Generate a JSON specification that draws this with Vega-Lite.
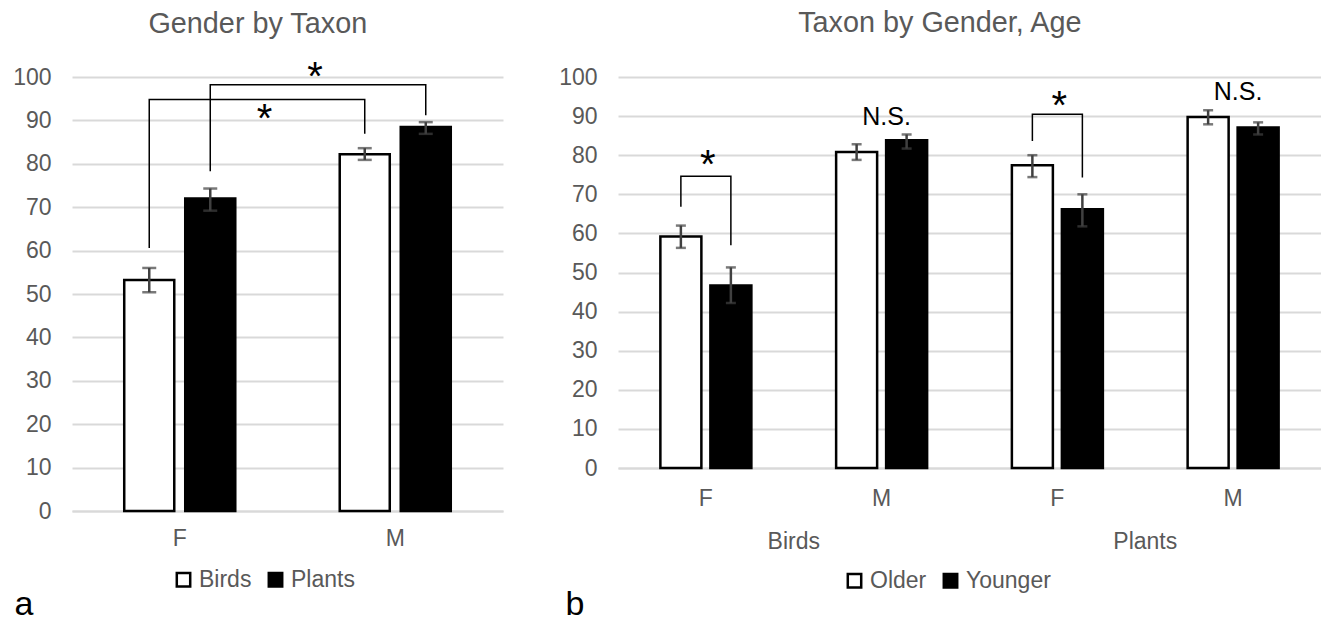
{
  "$schema": "https://vega.github.io/schema/vega-lite/v6.json",
  "padding": {"left": 12, "top": 8, "right": 0, "bottom": 0},
  "spacing": 55,
  "datasets": {
    "aBars": [
      {"gender": "F", "taxon": "Birds", "value": 53.2, "lo": 50.4, "hi": 56.0},
      {"gender": "F", "taxon": "Plants", "value": 72.0, "lo": 69.2, "hi": 74.3},
      {"gender": "M", "taxon": "Birds", "value": 82.2, "lo": 80.9, "hi": 83.6},
      {"gender": "M", "taxon": "Plants", "value": 88.5, "lo": 86.9, "hi": 89.6}
    ],
    "aBrackets": [
      {"id": "b1", "seq": 1, "gender": "F", "taxon": "Birds", "value": 60.6},
      {"id": "b1", "seq": 2, "gender": "F", "taxon": "Birds", "value": 94.8},
      {"id": "b1", "seq": 3, "gender": "M", "taxon": "Birds", "value": 94.8},
      {"id": "b1", "seq": 4, "gender": "M", "taxon": "Birds", "value": 86.9},
      {"id": "b2", "seq": 1, "gender": "F", "taxon": "Plants", "value": 78.3},
      {"id": "b2", "seq": 2, "gender": "F", "taxon": "Plants", "value": 98.2},
      {"id": "b2", "seq": 3, "gender": "M", "taxon": "Plants", "value": 98.2},
      {"id": "b2", "seq": 4, "gender": "M", "taxon": "Plants", "value": 91.2}
    ],
    "aStars": [
      {"id": "b1", "gender": "M", "label": "*", "value": 90.2},
      {"id": "b2", "gender": "M", "label": "*", "value": 99.8}
    ],
    "bBars": [
      {"cat": "Birds|F", "age": "Older", "value": 59.2, "lo": 56.3, "hi": 62.0},
      {"cat": "Birds|F", "age": "Younger", "value": 46.7, "lo": 42.2, "hi": 51.3},
      {"cat": "Birds|M", "age": "Older", "value": 80.8, "lo": 78.8, "hi": 82.8},
      {"cat": "Birds|M", "age": "Younger", "value": 83.8, "lo": 81.7, "hi": 85.3},
      {"cat": "Plants|F", "age": "Older", "value": 77.4, "lo": 74.4, "hi": 80.0},
      {"cat": "Plants|F", "age": "Younger", "value": 66.2, "lo": 61.8, "hi": 70.0},
      {"cat": "Plants|M", "age": "Older", "value": 89.8, "lo": 87.9, "hi": 91.5},
      {"cat": "Plants|M", "age": "Younger", "value": 87.1, "lo": 85.3, "hi": 88.4}
    ],
    "bBrackets": [
      {"id": "s1", "seq": 1, "cat": "Birds|F", "age": "Older", "value": 66.8},
      {"id": "s1", "seq": 2, "cat": "Birds|F", "age": "Older", "value": 74.6},
      {"id": "s1", "seq": 3, "cat": "Birds|F", "age": "Younger", "value": 74.6},
      {"id": "s1", "seq": 4, "cat": "Birds|F", "age": "Younger", "value": 57.0},
      {"id": "s2", "seq": 1, "cat": "Plants|F", "age": "Older", "value": 83.6},
      {"id": "s2", "seq": 2, "cat": "Plants|F", "age": "Older", "value": 90.5},
      {"id": "s2", "seq": 3, "cat": "Plants|F", "age": "Younger", "value": 90.5},
      {"id": "s2", "seq": 4, "cat": "Plants|F", "age": "Younger", "value": 74.3}
    ],
    "bNotes": [
      {"cat": "Birds|F", "label": "*", "value": 77.3},
      {"cat": "Plants|F", "label": "*", "value": 92.4},
      {"cat": "Birds|M", "label": "N.S.", "value": 89.75},
      {"cat": "Plants|M", "label": "N.S.", "value": 96.2}
    ]
  },
  "resolve": {"scale": {"fill": "independent", "xOffset": "independent"}, "legend": {"fill": "independent"}},
  "hconcat": [
    {
      "width": 431,
      "height": 434,
      "title": {"text": "Gender by Taxon", "offset": 19.5, "frame": "bounds"},
      "layer": [
        {
          "data": {"name": "aBars"},
          "mark": {"type": "bar", "stroke": "black", "strokeWidth": 2.5},
          "encoding": {
            "x": {"field": "gender", "type": "nominal", "scale": {"paddingInner": 0, "paddingOuter": 0}, "axis": {"title": null, "labelPadding": 16}},
            "xOffset": {"field": "taxon", "type": "nominal", "scale": {"domain": ["Birds", "Plants"], "paddingInner": 0.18, "paddingOuter": 0.856}},
            "y": {"field": "value", "type": "quantitative", "scale": {"domain": [0, 100], "nice": false},
                  "axis": {"values": [0, 10, 20, 30, 40, 50, 60, 70, 80, 90, 100], "title": "a", "titleAngle": 0, "titleAlign": "left", "titleBaseline": "alphabetic", "titleX": -58, "titleY": 537}},
            "fill": {"field": "taxon", "type": "nominal", "scale": {"domain": ["Birds", "Plants"], "range": ["white", "black"]},
                     "legend": {"title": null, "legendX": 100, "legendY": 491}}
          }
        },
        {
          "data": {"name": "aBars"},
          "mark": {"type": "rule", "color": "#404040", "strokeWidth": 2.5},
          "encoding": {
            "x": {"field": "gender", "type": "nominal", "title": null},
            "xOffset": {"field": "taxon", "type": "nominal"},
            "y": {"field": "lo", "type": "quantitative", "axis": {"values": [0, 10, 20, 30, 40, 50, 60, 70, 80, 90, 100]}},
            "y2": {"field": "hi"}
          }
        },
        {
          "data": {"name": "aBars"},
          "mark": {"type": "tick", "color": "#404040", "size": 14, "thickness": 2.5},
          "encoding": {
            "x": {"field": "gender", "type": "nominal", "title": null},
            "xOffset": {"field": "taxon", "type": "nominal"},
            "y": {"field": "lo", "type": "quantitative", "axis": {"values": [0, 10, 20, 30, 40, 50, 60, 70, 80, 90, 100]}}
          }
        },
        {
          "data": {"name": "aBars"},
          "mark": {"type": "tick", "color": "#404040", "size": 14, "thickness": 2.5},
          "encoding": {
            "x": {"field": "gender", "type": "nominal", "title": null},
            "xOffset": {"field": "taxon", "type": "nominal"},
            "y": {"field": "hi", "type": "quantitative", "axis": {"values": [0, 10, 20, 30, 40, 50, 60, 70, 80, 90, 100]}}
          }
        },
        {
          "data": {"name": "aBrackets"},
          "mark": {"type": "line", "color": "black", "strokeWidth": 1.5},
          "encoding": {
            "x": {"field": "gender", "type": "nominal", "title": null},
            "xOffset": {"field": "taxon", "type": "nominal"},
            "y": {"field": "value", "type": "quantitative", "axis": {"values": [0, 10, 20, 30, 40, 50, 60, 70, 80, 90, 100]}},
            "detail": {"field": "id"},
            "order": {"field": "seq", "type": "quantitative"}
          }
        },
        {
          "data": {"name": "aStars"},
          "transform": [{"filter": "datum.id == 'b1'"}],
          "mark": {"type": "text", "fontSize": 40, "color": "black", "dx": -23, "baseline": "middle"},
          "encoding": {
            "x": {"field": "gender", "type": "nominal", "bandPosition": 0, "title": null},
            "y": {"field": "value", "type": "quantitative", "axis": {"values": [0, 10, 20, 30, 40, 50, 60, 70, 80, 90, 100]}},
            "text": {"field": "label"}
          }
        },
        {
          "data": {"name": "aStars"},
          "transform": [{"filter": "datum.id == 'b2'"}],
          "mark": {"type": "text", "fontSize": 40, "color": "black", "dx": 27.5, "baseline": "middle"},
          "encoding": {
            "x": {"field": "gender", "type": "nominal", "bandPosition": 0, "title": null},
            "y": {"field": "value", "type": "quantitative", "axis": {"values": [0, 10, 20, 30, 40, 50, 60, 70, 80, 90, 100]}},
            "text": {"field": "label"}
          }
        }
      ]
    },
    {
      "width": 703,
      "height": 391,
      "title": {"text": "Taxon by Gender, Age", "offset": 28.5, "frame": "bounds"},
      "resolve": {"axis": {"x": "independent"}},
      "layer": [
        {
          "data": {"name": "bBars"},
          "mark": {"type": "bar", "stroke": "black", "strokeWidth": 2.5},
          "encoding": {
            "x": {"field": "cat", "type": "nominal", "scale": {"domain": ["Birds|F", "Birds|M", "Plants|F", "Plants|M"], "paddingInner": 0, "paddingOuter": 0},
                  "axis": {"title": null, "labelExpr": "split(datum.value, '|')[1]", "labelPadding": 19}},
            "xOffset": {"field": "age", "type": "nominal", "scale": {"domain": ["Older", "Younger"], "paddingInner": 0.18, "paddingOuter": 0.8475}},
            "y": {"field": "value", "type": "quantitative", "scale": {"domain": [0, 100], "nice": false},
                  "axis": {"values": [0, 10, 20, 30, 40, 50, 60, 70, 80, 90, 100], "title": "b", "titleAngle": 0, "titleAlign": "left", "titleBaseline": "alphabetic", "titleX": -53, "titleY": 537}},
            "fill": {"field": "age", "type": "nominal", "scale": {"domain": ["Older", "Younger"], "range": ["white", "black"]},
                     "legend": {"title": null, "legendX": 225, "legendY": 492}}
          }
        },
        {
          "data": {"name": "bBars"},
          "mark": {"type": "rule", "color": "#404040", "strokeWidth": 2.5},
          "encoding": {
            "x": {"field": "cat", "type": "nominal",
                  "axis": {"orient": "bottom", "title": null, "labelOffset": 87.9, "domain": false, "labelPadding": 62,
                           "labelExpr": "split(datum.value, '|')[1] == 'F' ? split(datum.value, '|')[0] : ''"}},
            "xOffset": {"field": "age", "type": "nominal"},
            "y": {"field": "lo", "type": "quantitative", "axis": {"values": [0, 10, 20, 30, 40, 50, 60, 70, 80, 90, 100]}},
            "y2": {"field": "hi"}
          }
        },
        {
          "data": {"name": "bBars"},
          "mark": {"type": "tick", "color": "#404040", "size": 10, "thickness": 2.5},
          "encoding": {
            "x": {"field": "cat", "type": "nominal", "axis": null},
            "xOffset": {"field": "age", "type": "nominal"},
            "y": {"field": "lo", "type": "quantitative", "axis": {"values": [0, 10, 20, 30, 40, 50, 60, 70, 80, 90, 100]}}
          }
        },
        {
          "data": {"name": "bBars"},
          "mark": {"type": "tick", "color": "#404040", "size": 10, "thickness": 2.5},
          "encoding": {
            "x": {"field": "cat", "type": "nominal", "axis": null},
            "xOffset": {"field": "age", "type": "nominal"},
            "y": {"field": "hi", "type": "quantitative", "axis": {"values": [0, 10, 20, 30, 40, 50, 60, 70, 80, 90, 100]}}
          }
        },
        {
          "data": {"name": "bBrackets"},
          "mark": {"type": "line", "color": "black", "strokeWidth": 1.5},
          "encoding": {
            "x": {"field": "cat", "type": "nominal", "axis": null},
            "xOffset": {"field": "age", "type": "nominal"},
            "y": {"field": "value", "type": "quantitative", "axis": {"values": [0, 10, 20, 30, 40, 50, 60, 70, 80, 90, 100]}},
            "detail": {"field": "id"},
            "order": {"field": "seq", "type": "quantitative"}
          }
        },
        {
          "data": {"name": "bNotes"},
          "transform": [{"filter": "datum.label == '*'"}],
          "mark": {"type": "text", "fontSize": 40, "color": "black", "baseline": "middle", "dx": 2},
          "encoding": {
            "x": {"field": "cat", "type": "nominal", "axis": null},
            "y": {"field": "value", "type": "quantitative", "axis": {"values": [0, 10, 20, 30, 40, 50, 60, 70, 80, 90, 100]}},
            "text": {"field": "label"}
          }
        },
        {
          "data": {"name": "bNotes"},
          "transform": [{"filter": "datum.label == 'N.S.'"}],
          "mark": {"type": "text", "fontSize": 25, "color": "black", "baseline": "middle", "dx": 5},
          "encoding": {
            "x": {"field": "cat", "type": "nominal", "axis": null},
            "y": {"field": "value", "type": "quantitative", "axis": {"values": [0, 10, 20, 30, 40, 50, 60, 70, 80, 90, 100]}},
            "text": {"field": "label"}
          }
        }
      ]
    }
  ],
  "config": {
    "font": "Liberation Sans",
    "view": {"stroke": null},
    "axis": {"labelColor": "#595959", "labelFontSize": 23, "ticks": false, "domain": false, "grid": false,
             "titleFontWeight": "normal", "titleColor": "black", "titleFontSize": 34, "titleFont": "Liberation Sans"},
    "axisY": {"grid": true, "gridColor": "#d9d9d9", "gridWidth": 2, "labelPadding": 21},
    "axisX": {"domain": true, "domainColor": "#d9d9d9", "domainWidth": 2, "labelAngle": 0, "labelPadding": 15},
    "legend": {"orient": "none", "direction": "horizontal", "symbolType": "square", "symbolSize": 180,
               "symbolStrokeColor": "black", "symbolStrokeWidth": 2.5, "labelFontSize": 23, "labelColor": "#595959",
               "labelOffset": 4, "columnPadding": 11},
    "title": {"fontSize": 28.8, "fontWeight": "normal", "color": "#595959"}
  }
}
